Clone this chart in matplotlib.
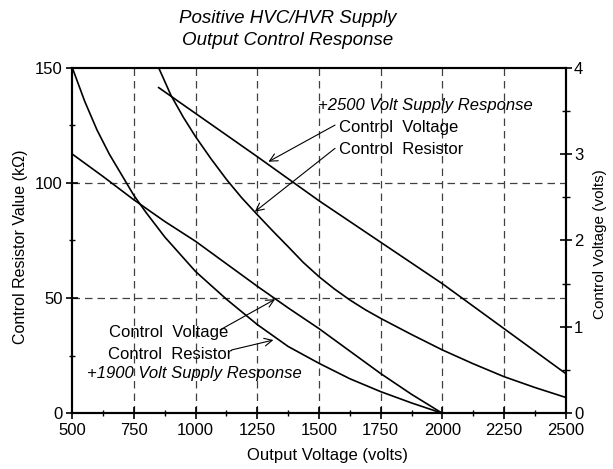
import matplotlib
matplotlib.use("Agg")
import matplotlib.pyplot as plt
from matplotlib.ticker import MultipleLocator, FixedLocator

plt.rcParams['font.family'] = ['Liberation Sans', 'DejaVu Sans']

# ---- data ----
vout_1900 = [500, 550, 600, 650, 700, 750, 800, 875, 1000, 1125, 1250, 1375, 1500,
             1625, 1750, 1875, 2000]
res_1900 = [150, 135.5, 123, 112.5, 103.5, 94.5, 87, 76.5, 61.5, 49.5, 38.5, 29, 21.7,
            15, 9.4, 4.5, 0]
vout_1900v = [500, 625, 750, 875, 1000, 1125, 1250, 1375, 1500, 1625, 1750, 1875, 2000]
volt_1900 = [3.0, 2.74, 2.47, 2.22, 1.99, 1.73, 1.47, 1.22, 0.98, 0.72, 0.46, 0.22, 0]

vout_2500r = [850, 900, 950, 1000, 1062, 1125, 1187, 1250, 1312, 1375, 1437, 1500, 1562,
              1625, 1687, 1750, 1875, 2000, 2125, 2250, 2375, 2500]
res_2500 = [150, 138, 128.5, 120, 110.5, 101.5, 93.5, 86.2, 79.2, 72.3, 65.4, 59.3, 54,
            49.2, 45, 41.2, 34.2, 27.5, 21.5, 15.9, 11.2, 6.9]
vout_2500v = [850, 1000, 1250, 1500, 1750, 2000, 2250, 2500]
volt_2500 = [3.77, 3.47, 2.97, 2.46, 1.98, 1.50, 0.98, 0.46]

x_ticks = [500, 750, 1000, 1250, 1500, 1750, 2000, 2250, 2500]
left_ticks = [0, 50, 100, 150]
right_ticks = [0, 1, 2, 3, 4]

fig = plt.figure(figsize=(6.13, 4.69), dpi=100)
ax = fig.add_axes([72.3/613, 1-413.3/469, (565.7-72.3)/613, (413.3-67.7)/469])
ax2 = ax.twinx()

ax.set_xlim(500, 2500)
ax.set_ylim(0, 150)
ax2.set_ylim(0, 4)

lw = 1.2
ax.plot(vout_1900, res_1900, color='black', lw=lw)
ax.plot(vout_2500r, res_2500, color='black', lw=lw)
ax2.plot(vout_1900v, volt_1900, color='black', lw=lw)
ax2.plot(vout_2500v, volt_2500, color='black', lw=lw)

# grid
for xv in x_ticks[1:-1]:
    ax.axvline(xv, color='#404040', lw=0.9, ls=(0, (6, 4)), zorder=0)
for yv in left_ticks[1:-1]:
    ax.axhline(yv, color='#404040', lw=0.9, ls=(0, (6, 4)), zorder=0)

for a in (ax, ax2):
    for s in a.spines.values():
        s.set_linewidth(1.5)

ax.xaxis.set_major_locator(FixedLocator(x_ticks))
ax.xaxis.set_minor_locator(MultipleLocator(125))
ax.yaxis.set_major_locator(FixedLocator(left_ticks))
ax.yaxis.set_minor_locator(MultipleLocator(25))
ax2.yaxis.set_major_locator(FixedLocator(right_ticks))
ax2.yaxis.set_minor_locator(MultipleLocator(0.5))

ax.tick_params(which='major', direction='inout', length=8, width=1.2, labelsize=12, pad=3)
ax.tick_params(which='minor', direction='inout', length=5, width=1.0)
ax.tick_params(axis='x', top=False, which='both')
ax2.tick_params(which='major', direction='inout', length=8, width=1.2, labelsize=12, pad=2)
ax2.tick_params(which='minor', direction='inout', length=6, width=1.0)

ax.set_xlabel('Output Voltage (volts)', fontsize=12)
ax.xaxis.set_label_coords(0.517, -0.1)
ax.set_ylabel('Control Resistor Value (k\u03a9)', fontsize=11.5)
ax.yaxis.set_label_coords(-0.09, 0.482)
ax2.set_ylabel('Control Voltage (volts)', fontsize=11,
               family=['Liberation Sans Narrow', 'Liberation Sans'])
ax2.yaxis.set_label_coords(1.055, 0.49)

fig.text(288/613, 1-18.5/469, 'Positive HVC/HVR Supply', ha='center', va='center',
         fontsize=13.5, style='italic')
fig.text(288/613, 1-40.5/469, 'Output Control Response', ha='center', va='center',
         fontsize=13.5, style='italic')

# annotations
ax.text(1930, 133.8, '+2500 Volt Supply Response', ha='center', va='center',
        fontsize=12, style='italic')
ax.text(1582, 124, 'Control  Voltage', ha='left', va='center', fontsize=12)
ax.text(1582, 114.6, 'Control  Resistor', ha='left', va='center', fontsize=12)

ax.text(649, 35.2, 'Control  Voltage', ha='left', va='center', fontsize=12)
ax.text(645, 25.6, 'Control  Resistor', ha='left', va='center', fontsize=12)
ax.text(994, 17.1, '+1900 Volt Supply Response', ha='center', va='center',
        fontsize=12, style='italic')

ap = dict(arrowstyle='->', lw=0.8, color='black', shrinkA=0, shrinkB=0,
          mutation_scale=14)
ax.annotate('', xy=(1295, 109.2), xytext=(1565, 125.1), arrowprops=ap)
ax.annotate('', xy=(1240, 87.5), xytext=(1565, 115), arrowprops=ap)
ax.annotate('', xy=(1322, 49.5), xytext=(1099, 36.2), arrowprops=ap)
ax.annotate('', xy=(1315, 31.8), xytext=(1146, 27.5), arrowprops=ap)

fig.savefig('out.png', dpi=100)
